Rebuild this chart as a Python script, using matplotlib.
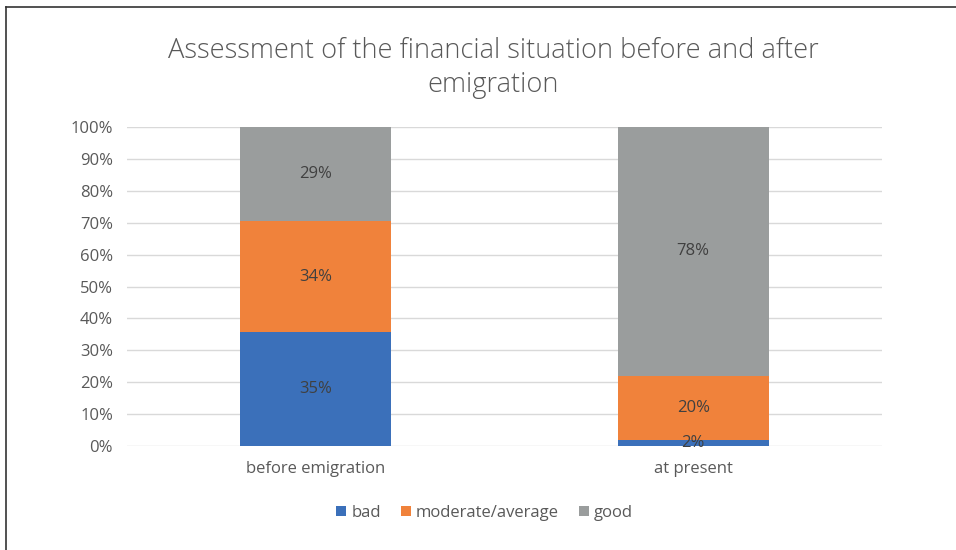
import matplotlib
matplotlib.use("Agg")
import matplotlib.pyplot as plt
import numpy as np
from matplotlib.lines import Line2D
from matplotlib.ticker import FuncFormatter

plt.rcParams["font.family"] = ["Open Sans", "DejaVu Sans"]

# 回答の割合 (%) — 100% 積み上げで表示
categories = ["before emigration", "at present"]
series_names = ["bad", "moderate/average", "good"]
bad = [35, 2]
moderate = [34, 20]
good = [29, 78]
colors = ["#3b70ba", "#f0823b", "#9a9d9d"]

raw = np.array([bad, moderate, good], dtype=float)
shares = raw / raw.sum(axis=0) * 100.0

fig = plt.figure(figsize=(9.56, 5.5), dpi=100)
ax = fig.add_axes([0.1328, 0.189, 0.7898, 0.58])

x = np.arange(len(categories))
bottom = np.zeros(len(categories))
for name, vals, share, col in zip(series_names, raw, shares, colors):
    ax.bar(x, share, width=0.4, bottom=bottom, color=col, label=name, zorder=2)
    for xi, b, s, v in zip(x, bottom, share, vals):
        ax.text(xi, b + s / 2, f"{v:.0f}%", ha="center", va="center",
                fontsize=12, color="#404040", zorder=3)
    bottom += share

ax.set_xlim(-0.5, 1.5)
ax.set_ylim(0, 100)
ax.set_yticks(np.arange(0, 101, 10))
ax.yaxis.set_major_formatter(FuncFormatter(lambda v, _: f"{v:.0f}%"))
ax.set_xticks(x)
ax.set_xticklabels(categories)
ax.tick_params(axis="both", length=0, labelsize=12, labelcolor="#595959")
ax.tick_params(axis="x", pad=11)
ax.tick_params(axis="y", pad=10)
ax.grid(axis="y", color="#d9d9d9", lw=1.0, zorder=0)
for sp in ax.spines.values():
    sp.set_visible(False)

fig.suptitle("Assessment of the financial situation before and after\nemigration",
             x=0.516, y=0.932, va="top", fontsize=19.6, fontweight="light",
             color="#595959", linespacing=1.25)

ax.legend(loc="center", bbox_to_anchor=(0.4735, -0.21), ncol=3,
          frameon=False, fontsize=12, labelcolor="#595959",
          handlelength=0.6, handleheight=0.6, handletextpad=0.3,
          columnspacing=1.2)

# 外枠 (左・上)
fig.add_artist(Line2D([5.5 / 956, 5.5 / 956], [0, 1 - 6.5 / 550],
                      transform=fig.transFigure, color="#333333", lw=1.2))
fig.add_artist(Line2D([5.5 / 956, 1], [1 - 6.5 / 550, 1 - 6.5 / 550],
                      transform=fig.transFigure, color="#333333", lw=1.2))

fig.savefig("out.png", dpi=100)
